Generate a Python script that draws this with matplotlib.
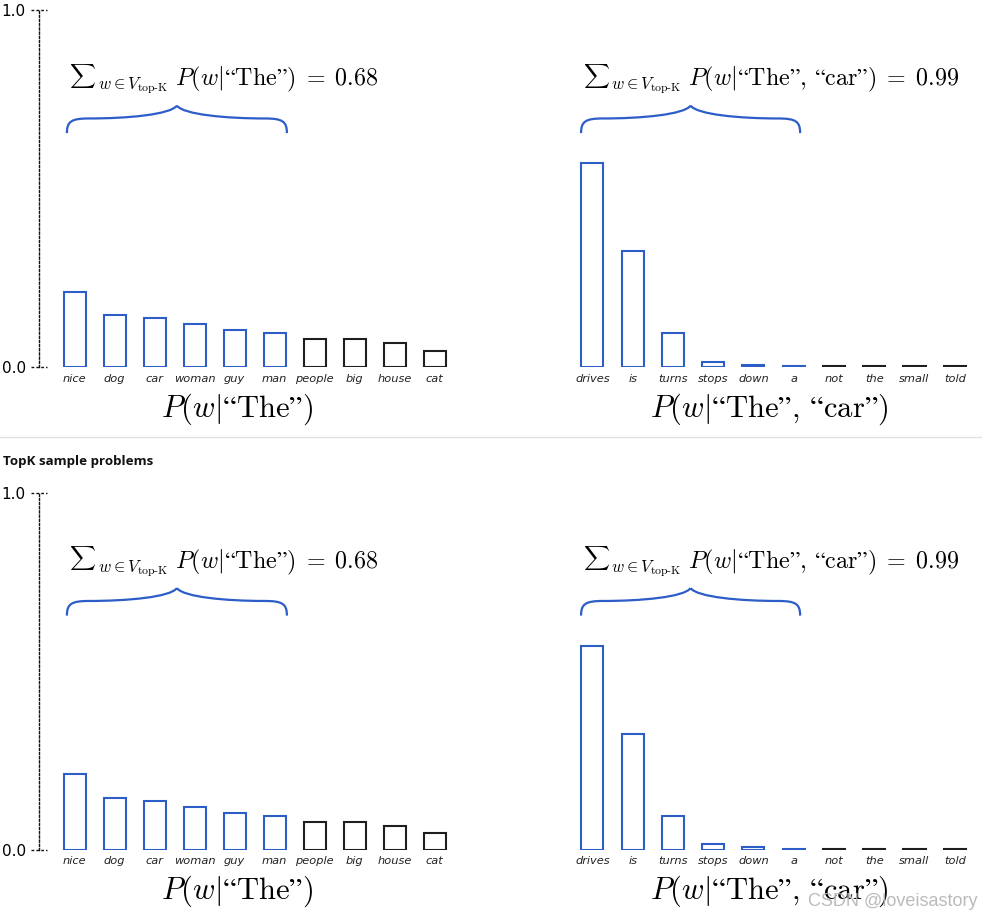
import matplotlib
matplotlib.use("Agg")
import matplotlib.pyplot as plt
from matplotlib.path import Path
from matplotlib.patches import PathPatch
from matplotlib.lines import Line2D
import matplotlib.transforms as mtransforms

plt.rcParams["mathtext.fontset"] = "cm"

# data
words_the = ["nice", "dog", "car", "woman", "guy", "man", "people", "big", "house", "cat"]
probs_the = [0.211, 0.146, 0.137, 0.120, 0.104, 0.095, 0.078, 0.078, 0.067, 0.047]
words_the_car = ["drives", "is", "turns", "stops", "down", "a", "not", "the", "small", "told"]
probs_the_car = [0.572, 0.325, 0.095, 0.016, 0.007, 0.003, 0.003, 0.003, 0.003, 0.003]
top_k = 6
topk_sum_the = 0.68
topk_sum_the_car = 0.99

BLUE = "#2d5ec8"
DARK = "#1e1e1e"
W, H = 982, 919

fig = plt.figure(figsize=(W / 100, H / 100), dpi=100)


def px_axes(left, top, width, height):
    return fig.add_axes([left / W, 1 - (top + height) / H, width / W, height / H])


def draw_brace(ax, x0, x1, y_end, y_mid, y_tip):
    xc = (x0 + x1) / 2
    half = xc - x0
    verts, codes = [], []
    for s, xa in ((1, x0), (-1, x1)):
        verts.append((xa, y_end))
        codes.append(Path.MOVETO)
        verts += [(xa, y_mid - 0.2 * (y_mid - y_end)), (xa + s * 0.04 * half, y_mid), (xa + s * 0.2 * half, y_mid)]
        codes += [Path.CURVE4] * 3
        verts += [(xc - s * 0.45 * half, y_mid), (xc - s * 0.06 * half, y_mid + 0.3 * (y_tip - y_mid)), (xc, y_tip)]
        codes += [Path.CURVE4] * 3
    ax.add_patch(PathPatch(Path(verts, codes), fill=False, edgecolor=BLUE, lw=1.6,
                           capstyle="butt", clip_on=False))


def draw_bars(ax, words, probs, total, cond, label_x, text_x, brace_x):
    x = list(range(len(words)))
    colors = [BLUE if i < top_k else DARK for i in x]
    ax.bar(x, probs, width=0.55, facecolor="white", edgecolor=colors, linewidth=1.5)
    ax.set_xlim(-0.8875, 9.5)
    ax.set_ylim(0, 1)
    ax.set_xticks(x)
    ax.set_xticklabels(words, fontsize=8.2, style="italic", color="#222222")
    ax.tick_params(axis="x", length=0, pad=4.5)
    for s in ("top", "right", "bottom"):
        ax.spines[s].set_visible(False)
    ax.text(label_x, -0.117, r"$P(w|\mathrm{“The”%s})$" % cond, transform=ax.transAxes,
            ha="center", va="center", fontsize=22)
    # brace over the top-k bars and its caption
    draw_brace(ax, brace_x[0], brace_x[1], 0.656, 0.697, 0.733)
    t1 = ax.text(text_x, 0.778, r"$\sum$", fontsize=13, ha="left", va="bottom")
    ax.annotate(r"${}_{w\in V_{\mathrm{top}\text{-}\mathrm{K}}}\;P(w|\mathrm{“The”%s})\;=\;%.2f$" % (cond, total),
                xy=(1, 0), xycoords=t1, xytext=(0.5, 3.0), textcoords="offset points",
                ha="left", va="baseline", fontsize=17.3)


def draw_panel(dy):
    ax1 = px_axes(39, 10.3 + dy, 415.5, 357)
    ax2 = px_axes(556.6, 10.3 + dy, 418.3, 357)
    draw_bars(ax1, words_the, probs_the, topk_sum_the, "", 0.4765, -0.13, (-0.19, 5.31))
    draw_bars(ax2, words_the_car, probs_the_car, topk_sum_the_car, r",\,\mathrm{“car”}", 0.508,
              -0.24, (-0.28, 5.16))

    ax1.spines["left"].set_linestyle((0, (1.5, 1.5)))
    ax1.spines["left"].set_linewidth(1.0)
    ax1.spines["left"].set_color("#111111")
    ax1.set_yticks([0, 1])
    ax1.set_yticklabels(["0.0", "1.0"], fontsize=11)
    ax1.tick_params(axis="y", length=0, pad=9.5)
    tr = mtransforms.blended_transform_factory(ax1.transAxes, ax1.transData)
    for yv in (0, 1):
        ax1.add_line(Line2D([-8 / 415.5, 8 / 415.5], [yv, yv], transform=tr, color="#111111",
                            lw=1.0, ls=(0, (2, 1.5)), clip_on=False))

    ax2.spines["left"].set_visible(False)
    ax2.set_yticks([])


draw_panel(0)
draw_panel(482.5)

fig.add_artist(Line2D([0, 1], [1 - 436.5 / H] * 2, transform=fig.transFigure, color="#e2e2e2", lw=1.0))
fig.text(3 / W, 1 - 461.5 / H, "TopK sample problems", fontsize=9.6, fontweight="bold",
         family="Open Sans", color="#111111", ha="left", va="center")
fig.text(978 / W, 1 - 902 / H, "CSDN @loveisastory", fontsize=13, family="Liberation Sans",
         color="#b4b4b4", alpha=0.9, ha="right", va="center")

fig.savefig("out.png", dpi=100)
